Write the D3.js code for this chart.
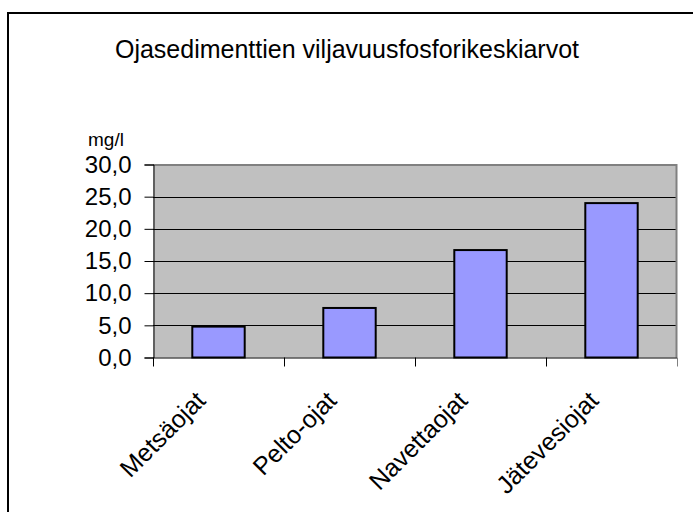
<!DOCTYPE html>
<html>
<head>
<meta charset="utf-8">
<script src="https://cdn.jsdelivr.net/npm/d3@7"></script>
<style>
  body { margin: 0; background: #fff; }
  svg { display: block; font-family: "Liberation Sans", Arial, sans-serif; }
</style>
</head>
<body>
<div id="chart"></div>
<script>
// chart data
var categories = ["Metsäojat", "Pelto-ojat", "Navettaojat", "Jätevesiojat"];
var values = [4.8, 7.7, 16.7, 24.0];
var yTicks = [0, 5, 10, 15, 20, 25, 30];
var titleText = "Ojasedimenttien viljavuusfosforikeskiarvot";
var unitText = "mg/l";

var width = 693, height = 512;
var plot = {left: 153, right: 677, top: 164.5, bottom: 357.5};

var svg = d3.select("#chart").append("svg")
    .attr("width", width)
    .attr("height", height);

// outer chart border (runs off the right and bottom of the picture)
svg.append("rect")
    .attr("x", 8).attr("y", 13)
    .attr("width", 720).attr("height", 540)
    .attr("fill", "#fff")
    .attr("stroke", "#000")
    .attr("stroke-width", 2);

var x = d3.scaleBand()
    .domain(categories)
    .range([plot.left, plot.right])
    .paddingInner(0.6)
    .paddingOuter(0.3);

var y = d3.scaleLinear()
    .domain([0, 30])
    .range([plot.bottom, plot.top]);

// plot area
svg.append("rect")
    .attr("x", plot.left).attr("y", plot.top)
    .attr("width", plot.right - plot.left)
    .attr("height", plot.bottom - plot.top)
    .attr("fill", "#c0c0c0");

// gridlines
svg.selectAll(".grid")
    .data(yTicks.filter(function(d) { return d > 0 && d < 30; }))
    .enter().append("line")
    .attr("x1", plot.left).attr("x2", plot.right)
    .attr("y1", function(d) { return Math.round(y(d)) + 0.5; })
    .attr("y2", function(d) { return Math.round(y(d)) + 0.5; })
    .attr("stroke", "#000")
    .attr("stroke-width", 1);

// plot border top and right (gray)
svg.append("path")
    .attr("d", "M" + plot.left + "," + (plot.top + 0.5) + "H" + (plot.right - 0.5) + "V" + plot.bottom)
    .attr("fill", "none")
    .attr("stroke", "#808080")
    .attr("stroke-width", 2);

// bars
svg.selectAll(".bar")
    .data(values)
    .enter().append("rect")
    .attr("x", function(d, i) { return x(categories[i]); })
    .attr("y", function(d) { return y(d); })
    .attr("width", x.bandwidth())
    .attr("height", function(d) { return y(0) - y(d); })
    .attr("fill", "#9999ff")
    .attr("stroke", "#000")
    .attr("stroke-width", 2);

// y axis
var fmt = d3.format(".1f");
var yAxis = d3.axisLeft(y)
    .tickValues(yTicks)
    .tickSize(9)
    .tickPadding(13)
    .tickFormat(function(d) { return fmt(d).replace(".", ","); });

var yG = svg.append("g")
    .attr("transform", "translate(" + (plot.left + 0.5) + ",0)")
    .call(yAxis);
yG.select(".domain").attr("stroke", "#000");
yG.selectAll("text")
    .attr("font-size", 24)
    .attr("fill", "#000")
    .attr("font-family", "Liberation Sans, Arial, sans-serif");

// x axis with ticks at category boundaries
var bounds = d3.range(categories.length + 1).map(function(i) {
    return plot.left + i * (plot.right - plot.left) / categories.length;
});
svg.append("line")
    .attr("x1", plot.left).attr("x2", plot.right)
    .attr("y1", plot.bottom + 0.5).attr("y2", plot.bottom + 0.5)
    .attr("stroke", "#000");
svg.selectAll(".xtick")
    .data(bounds)
    .enter().append("line")
    .attr("x1", function(d) { return Math.round(d) + 0.5; })
    .attr("x2", function(d) { return Math.round(d) + 0.5; })
    .attr("y1", plot.bottom).attr("y2", plot.bottom + 9)
    .attr("stroke", function(d, i) { return i === categories.length ? "#808080" : "#000"; });

// category labels, rotated
svg.selectAll(".xlabel")
    .data(categories)
    .enter().append("text")
    .attr("transform", function(d) {
        return "translate(" + (x(d) + x.bandwidth() / 2 - 11.5) + "," + 402 + ") rotate(-45)";
    })
    .attr("text-anchor", "end")
    .attr("font-size", 25)
    .attr("fill", "#000")
    .text(function(d) { return d; });

// title
svg.append("text")
    .attr("x", 347).attr("y", 58)
    .attr("text-anchor", "middle")
    .attr("font-size", 25)
    .attr("fill", "#000")
    .text(titleText);

// unit label
svg.append("text")
    .attr("x", 88).attr("y", 146)
    .attr("font-size", 19)
    .attr("fill", "#000")
    .text(unitText);
</script>
</body>
</html>
